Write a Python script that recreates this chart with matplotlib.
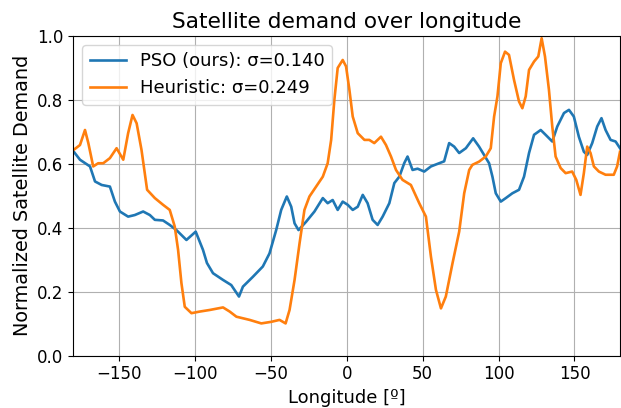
import matplotlib
matplotlib.use("Agg")
import matplotlib.pyplot as plt

pso_lon = [-180, -175.6, -169, -165.7, -161.3, -155.9, -152.6, -149.3, -143.9, -139.5, -134, -129.6,
           -126.3, -120.9, -116.5, -112.1, -105.5, -99.4, -94.6, -92, -88, -81.4, -76, -70.9, -68.3,
           -61.7, -55.2, -50.8, -46.4, -43.1, -39.4, -36.5, -34.3, -31.7, -26.7, -21.2, -15.7, -12.5,
           -9.2, -5.9, -2.6, 0.7, 4.0, 7.3, 10.6, 13.8, 17.1, 20.4, 23.7, 28.1, 31.4, 34.7, 37.9,
           40.1, 43.4, 46.7, 51.1, 55.5, 60.9, 64.2, 67.5, 70.8, 74.1, 78.5, 83.3, 87.2, 90.5, 93.8,
           96.0, 98.2, 101.5, 104.8, 109.1, 113.5, 116.8, 120.1, 123.4, 127.8, 131.0, 135.4, 138.7,
           143.1, 146.4, 149.6, 152.9, 156.2, 158.4, 161.7, 165.0, 167.8, 170.5, 173.8, 177.1, 180]
pso_val = [0.640, 0.613, 0.592, 0.545, 0.534, 0.529, 0.482, 0.451, 0.435, 0.440, 0.451, 0.440,
           0.425, 0.423, 0.409, 0.393, 0.362, 0.388, 0.331, 0.290, 0.258, 0.237, 0.221, 0.185, 0.216,
           0.247, 0.279, 0.320, 0.393, 0.456, 0.498, 0.466, 0.414, 0.393, 0.419, 0.451, 0.493, 0.477,
           0.487, 0.456, 0.482, 0.472, 0.456, 0.466, 0.503, 0.477, 0.425, 0.409, 0.435, 0.477, 0.540,
           0.560, 0.602, 0.623, 0.581, 0.585, 0.576, 0.592, 0.602, 0.608, 0.665, 0.654, 0.634, 0.649,
           0.680, 0.654, 0.628, 0.602, 0.560, 0.508, 0.482, 0.493, 0.508, 0.519, 0.560, 0.634, 0.691,
           0.706, 0.691, 0.670, 0.717, 0.759, 0.769, 0.748, 0.685, 0.638, 0.628, 0.665, 0.717, 0.743,
           0.706, 0.675, 0.670, 0.649]

heu_lon = [-180, -175.6, -172.3, -170.1, -166.9, -163.6, -160.3, -155.9, -151.5, -147.1, -143.9,
           -141, -138.3, -135.1, -131.4, -126.3, -120.9, -116.5, -113.2, -111, -108.8, -106.6, -102.2,
           -96.8, -90.2, -81.4, -77, -72.6, -63.9, -56.2, -49.6, -44.2, -40.2, -37.6, -34.3, -31,
           -27.8, -24.5, -20.1, -15.7, -12.5, -10.2, -8.1, -5.9, -2.6, -0.4, 1.8, 4.0, 7.3, 11.7,
           14.9, 18.2, 22.6, 25.9, 29.2, 32.5, 36.8, 42.3, 47.8, 52.2, 55.5, 58.8, 62.1, 65.3, 69.7,
           74.1, 77.4, 80.7, 82.8, 87.2, 91.6, 94.9, 97.1, 99.3, 101.5, 104.3, 106.9, 110.2, 113.5,
           115.7, 117.9, 120.1, 123.4, 126.2, 128.4, 130.6, 133.2, 135.4, 137.6, 140.9, 144.2, 148.5,
           151.2, 154.0, 156.2, 158.4, 160.6, 162.8, 166.1, 170.5, 175.9, 178.1, 180]
heu_val = [0.643, 0.659, 0.706, 0.665, 0.592, 0.602, 0.602, 0.618, 0.649, 0.613, 0.696,
           0.753, 0.727, 0.644, 0.519, 0.493, 0.472, 0.456, 0.404, 0.331, 0.227, 0.153, 0.133,
           0.138, 0.143, 0.151, 0.138, 0.122, 0.112, 0.101, 0.106, 0.112, 0.101, 0.143, 0.237, 0.352,
           0.456, 0.498, 0.529, 0.560, 0.602, 0.675, 0.800, 0.900, 0.925, 0.905, 0.832, 0.748, 0.696,
           0.675, 0.675, 0.665, 0.685, 0.659, 0.623, 0.581, 0.550, 0.534, 0.477, 0.435, 0.310, 0.206,
           0.148, 0.185, 0.289, 0.388, 0.508, 0.581, 0.597, 0.607, 0.623, 0.649, 0.748, 0.811, 0.915,
           0.951, 0.941, 0.863, 0.795, 0.774, 0.811, 0.894, 0.920, 0.936, 0.993, 0.936, 0.832, 0.717,
           0.623, 0.587, 0.571, 0.576, 0.550, 0.503, 0.571, 0.654, 0.634, 0.592, 0.576, 0.566, 0.566,
           0.592, 0.638]

labels = ["PSO (ours): σ=0.140", "Heuristic: σ=0.249"]
title = "Satellite demand over longitude"
xlabel = "Longitude [º]"
ylabel = "Normalized Satellite Demand"

dpi = 100
fig = plt.figure(figsize=(621 / dpi, 408 / dpi), dpi=dpi)
ax = fig.add_axes([73.3 / 621, 1 - 355.7 / 408, (620 - 73.3) / 621, (355.7 - 36) / 408])
ax.plot(pso_lon, pso_val, color="#1f77b4", label=labels[0], lw=1.9)
ax.plot(heu_lon, heu_val, color="#ff7f0e", label=labels[1], lw=1.9)
ax.set_xlim(-180, 180)
ax.set_ylim(0, 1)
ax.set_xticks([-150, -100, -50, 0, 50, 100, 150])
ax.set_yticks([0.0, 0.2, 0.4, 0.6, 0.8, 1.0])
ax.tick_params(labelsize=12)
ax.grid(True)
ax.set_title(title, fontsize=15.6)
ax.set_xlabel(xlabel, fontsize=13)
ax.set_ylabel(ylabel, fontsize=13.9)
ax.legend(loc="upper left", fontsize=13)
fig.savefig("out.png", dpi=dpi)
